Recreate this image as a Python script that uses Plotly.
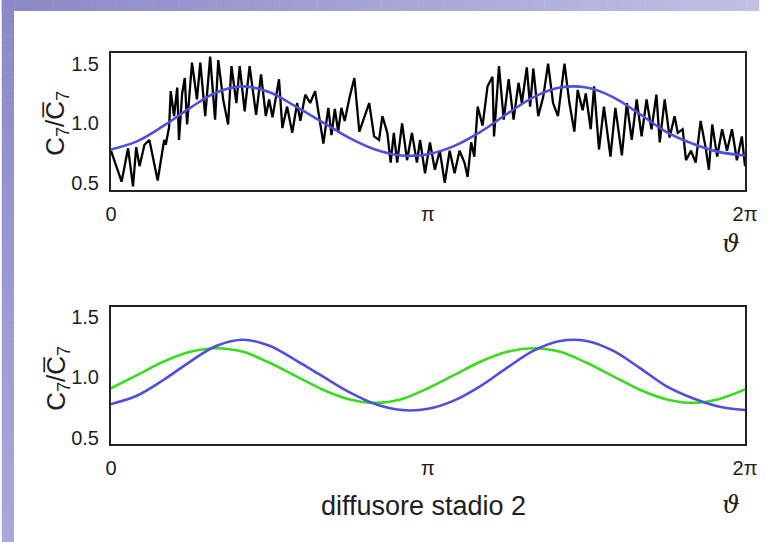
import plotly.graph_objects as go

# ---------------- data (angles in degrees) ----------------
meas_theta = [0, 6.0, 9.7, 12.5, 14.3, 16.2, 19, 21.8, 26.5, 30.2, 31.1, 33, 33.9, 35.8, 37.6,
              38.6, 40.4, 41.9, 43.2, 46, 48.8, 50.7, 53.5, 56.3, 59.1, 60.9, 63.7, 66.5, 68.4,
              71.2, 73.1, 75.9, 78.7, 82.4, 85.2, 87.9, 89.8, 91.7, 95.4, 97.3, 100, 102.9,
              105.7, 107.5, 110.3, 113.1, 115.9, 118.7, 120.6, 123.4, 125.2, 127.1, 129, 130.8,
              132.7, 135.5, 138.2, 141, 143.8, 146.6, 149.4, 152.2, 154.1, 156.9, 158.8, 160.6,
              162.5, 165.3, 168.1, 170.9, 173.7, 175.5, 178.3, 181.1, 183.9, 186.7, 189.5,
              192.3, 195.1, 197.9, 200.7, 202.5, 204.5, 206.3, 208.2, 211, 213.8, 216.6, 217.5,
              220.3, 223, 225.8, 228.6, 231.4, 233.3, 236.1, 238, 239.8, 242.6, 245.4, 248.2,
              251, 253.8, 257.5, 260.3, 263.1, 265, 267.8, 269.6, 272.4, 274.3, 277.1, 279.9,
              283.6, 286.4, 290.1, 292.9, 295.7, 298.5, 301.3, 304.1, 306.9, 309.7, 311.6,
              314.4, 317.2, 320, 321.8, 324.6, 326.5, 329.3, 332, 334.8, 337.6, 339.5, 341.4,
              344.2, 347, 349.8, 352.6, 355.4, 358.2, 360]
meas_ratio = [0.77, 0.51, 0.79, 0.47, 0.80, 0.64, 0.82, 0.86, 0.52, 0.86, 0.82, 0.97, 1.27, 1.06,
              1.30, 0.86, 1.25, 1.38, 0.99, 1.51, 1.20, 1.51, 1.06, 1.56, 1.03, 1.53, 1.20, 0.99,
              1.48, 1.17, 1.48, 1.10, 1.48, 1.07, 1.41, 1.06, 1.20, 1.05, 1.37, 0.96, 1.14, 0.92,
              1.17, 1.02, 1.24, 1.17, 1.27, 1.00, 0.83, 1.13, 0.90, 1.12, 0.93, 1.13, 1.02, 1.22,
              1.38, 0.93, 1.06, 1.17, 0.89, 0.86, 1.06, 0.92, 0.67, 0.92, 0.67, 1.00, 0.69, 0.92,
              0.67, 0.86, 0.58, 0.84, 0.61, 0.77, 0.50, 0.77, 0.58, 0.77, 0.67, 0.55, 0.84, 0.72,
              1.14, 0.98, 1.31, 1.39, 0.89, 1.48, 1.03, 1.37, 1.03, 1.34, 1.17, 1.47, 1.14, 1.46,
              1.06, 1.22, 1.50, 1.17, 1.06, 1.50, 1.17, 0.93, 1.28, 1.11, 1.25, 0.95, 1.31, 0.78,
              1.14, 0.72, 1.13, 0.73, 1.17, 0.86, 1.20, 0.89, 1.20, 0.95, 1.24, 0.84, 1.20, 0.88,
              1.06, 0.92, 0.95, 0.69, 0.77, 0.67, 1.02, 0.80, 0.61, 0.99, 0.72, 0.95, 0.77, 0.95,
              0.69, 0.89, 0.64]

fit_theta = [0, 15, 30, 45, 60, 75, 90, 105, 120, 135, 150, 165, 180, 195, 210, 225, 240,
             255, 270, 285, 300, 315, 330, 345, 360]
fit_blue = [0.78, 0.85, 0.98, 1.13, 1.26, 1.31, 1.26, 1.14, 1.01, 0.88, 0.78, 0.73, 0.74,
            0.81, 0.93, 1.08, 1.22, 1.30, 1.30, 1.22, 1.08, 0.93, 0.83, 0.76, 0.73]
fit_green = [0.91, 1.02, 1.13, 1.21, 1.24, 1.21, 1.12, 1.01, 0.90, 0.82, 0.79, 0.82, 0.91,
             1.02, 1.13, 1.21, 1.24, 1.21, 1.12, 1.01, 0.90, 0.82, 0.79, 0.82, 0.90]

x_tickvals = [0, 180, 360]
x_ticktext = ["0", "π", "2π"]
y_tickvals = [0.5, 1.0, 1.5]
y_ticktext = ["0.5", "1.0", "1.5"]

# ---------------- figure ----------------
W, H = 769, 542
ML, MR, MT, MB = 111, 14, 53, 98
PW, PH = W - ML - MR, H - MT - MB

def px_x(px):
    return (px - ML) / PW

def px_y(py):
    return (H - MB - py) / PH

BLUE = "#4f4fdc"
GREEN = "#3ada1e"
FONT = "Liberation Sans, Arial, sans-serif"
INK = "#1e1e1e"

fig = go.Figure()
fig.add_trace(go.Scatter(x=meas_theta, y=meas_ratio, mode="lines",
                         line=dict(color="black", width=2.3), xaxis="x", yaxis="y"))
fig.add_trace(go.Scatter(x=fit_theta, y=fit_blue, mode="lines", line_shape="spline",
                         line=dict(color=BLUE, width=2.6), xaxis="x", yaxis="y"))
fig.add_trace(go.Scatter(x=fit_theta, y=fit_green, mode="lines", line_shape="spline",
                         line=dict(color=GREEN, width=2.6), xaxis="x2", yaxis="y2"))
fig.add_trace(go.Scatter(x=fit_theta, y=fit_blue, mode="lines", line_shape="spline",
                         line=dict(color=BLUE, width=2.6), xaxis="x2", yaxis="y2"))

axis_common = dict(showgrid=False, zeroline=False, showline=True, mirror=True,
                   linecolor="#222222", linewidth=2, ticks="",
                   tickfont=dict(family=FONT, size=20, color=INK))

top_dom = [px_y(190), 1.0]
bot_dom = [0.0, px_y(307)]

fig.update_layout(
    width=W, height=H,
    margin=dict(l=ML, r=MR, t=MT, b=MB),
    paper_bgcolor="white", plot_bgcolor="white",
    showlegend=False,
    xaxis=dict(range=[0, 360], domain=[0, 1], anchor="y", tickvals=x_tickvals,
               ticktext=x_ticktext, ticklabelstandoff=5, **axis_common),
    yaxis=dict(range=[0.44, 1.59], domain=top_dom, anchor="x", tickvals=y_tickvals,
               ticktext=y_ticktext, ticklabelstandoff=6, **axis_common),
    xaxis2=dict(range=[0, 360], domain=[0, 1], anchor="y2", tickvals=x_tickvals,
                ticktext=x_ticktext, ticklabelstandoff=5, **axis_common),
    yaxis2=dict(range=[0.45, 1.58], domain=bot_dom, anchor="x2", tickvals=y_tickvals,
                ticktext=y_ticktext, ticklabelstandoff=6, **axis_common),
)

# background bands (purple frame on left and top)
shapes = []
n = 60
for i in range(n):
    t = i / (n - 1)
    r = int(140 + (192 - 140) * t)
    g = int(138 + (192 - 138) * t)
    b = int(198 + (230 - 198) * t)
    x0 = i * W / n
    x1 = (i + 1) * W / n + 0.5
    shapes.append(dict(type="rect", xref="paper", yref="paper",
                       x0=px_x(x0), x1=px_x(x1), y0=px_y(11), y1=px_y(0),
                       fillcolor=f"rgb({r},{g},{b})", line_width=0, layer="below"))
for i in range(n):
    t = i / (n - 1)
    r = int(140 + (170 - 140) * t)
    g = int(138 + (168 - 138) * t)
    b = int(198 + (218 - 198) * t)
    y0 = i * H / n
    y1 = (i + 1) * H / n + 0.5
    shapes.append(dict(type="rect", xref="paper", yref="paper",
                       x0=px_x(0), x1=px_x(12.5), y0=px_y(y1), y1=px_y(y0),
                       fillcolor=f"rgb({r},{g},{b})", line_width=0, layer="below"))
fig.update_layout(shapes=shapes)

ytitle = "C<sub>7</sub>/C\u0305<sub>7</sub>"
annots = [
    dict(x=px_x(56), y=px_y(123), text=ytitle, textangle=-90,
         font=dict(family=FONT, size=26, color=INK)),
    dict(x=px_x(56), y=px_y(378), text=ytitle, textangle=-90,
         font=dict(family=FONT, size=26, color=INK)),
    dict(x=px_x(741), y=px_y(243), text="<i>ϑ</i>",
         font=dict(family="DejaVu Serif, serif", size=25, color=INK)),
    dict(x=px_x(741), y=px_y(505), text="<i>ϑ</i>",
         font=dict(family="DejaVu Serif, serif", size=25, color=INK)),
    dict(x=px_x(428), y=px_y(506), text="diffusore stadio 2",
         font=dict(family=FONT, size=27, color=INK)),
]
for a in annots:
    a.update(xref="paper", yref="paper", showarrow=False, xanchor="center", yanchor="middle")
fig.update_layout(annotations=annots)

fig.write_html("out.html", config={"displayModeBar": False},
               post_script="document.body.style.margin='0';document.body.style.overflow='hidden';")
